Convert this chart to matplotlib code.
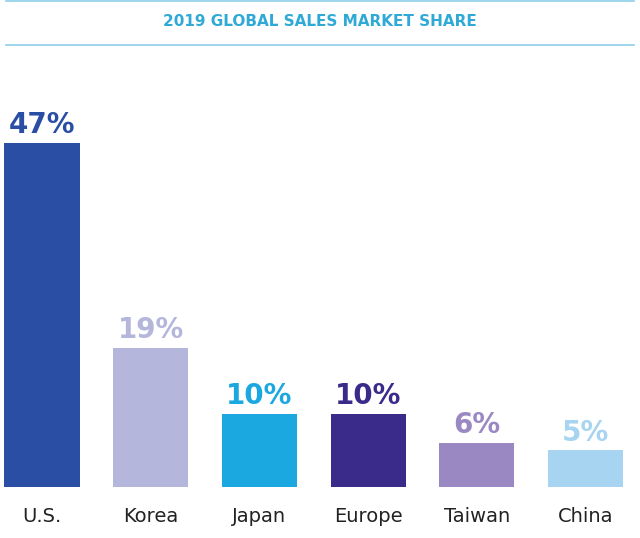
import matplotlib
matplotlib.use("Agg")
import matplotlib.pyplot as plt

categories = ["U.S.", "Korea", "Japan", "Europe", "Taiwan", "China"]
shares = [47, 19, 10, 10, 6, 5]
colors = ["#2b4ea5", "#b5b6dc", "#1ba7e0", "#3a2b8b", "#9a88c3", "#a6d4f1"]

W, H = 640, 538
fig = plt.figure(figsize=(W/100, H/100), dpi=100)
bottom_px, top_px = 487, 60
ax = fig.add_axes([0, (H-bottom_px)/H, 1, (bottom_px-top_px)/H])
x = list(range(len(categories)))
ax.bar(x, shares, width=0.69, color=colors)
ax.set_xlim(-42/108.7, (640-42)/108.7)
ax.set_ylim(0, (bottom_px-top_px)/7.32)
for xi, v, c in zip(x, shares, colors):
    ax.text(xi, v+0.5, f"{v}%", ha="center", va="bottom", color=c,
            fontsize=20, fontweight="bold")
ax.axis("off")
for xi, cat in zip(x, categories):
    fig.text((42+108.7*xi)/W, 1-517/H, cat, ha="center", va="center",
             fontsize=14, color="#222222")
fig.text(0.5, 1-22/H, "2019 GLOBAL SALES MARKET SHARE", ha="center", va="center",
         fontsize=11, fontweight="bold", color="#2fa9d6")
fig.add_artist(plt.Line2D([0.01, 0.99], [1-45/H]*2, color="#8fd0ea", lw=1.2))
fig.add_artist(plt.Line2D([0.01, 0.99], [1-1/H]*2, color="#8fd0ea", lw=1.2))
fig.savefig("out.png", dpi=100)
